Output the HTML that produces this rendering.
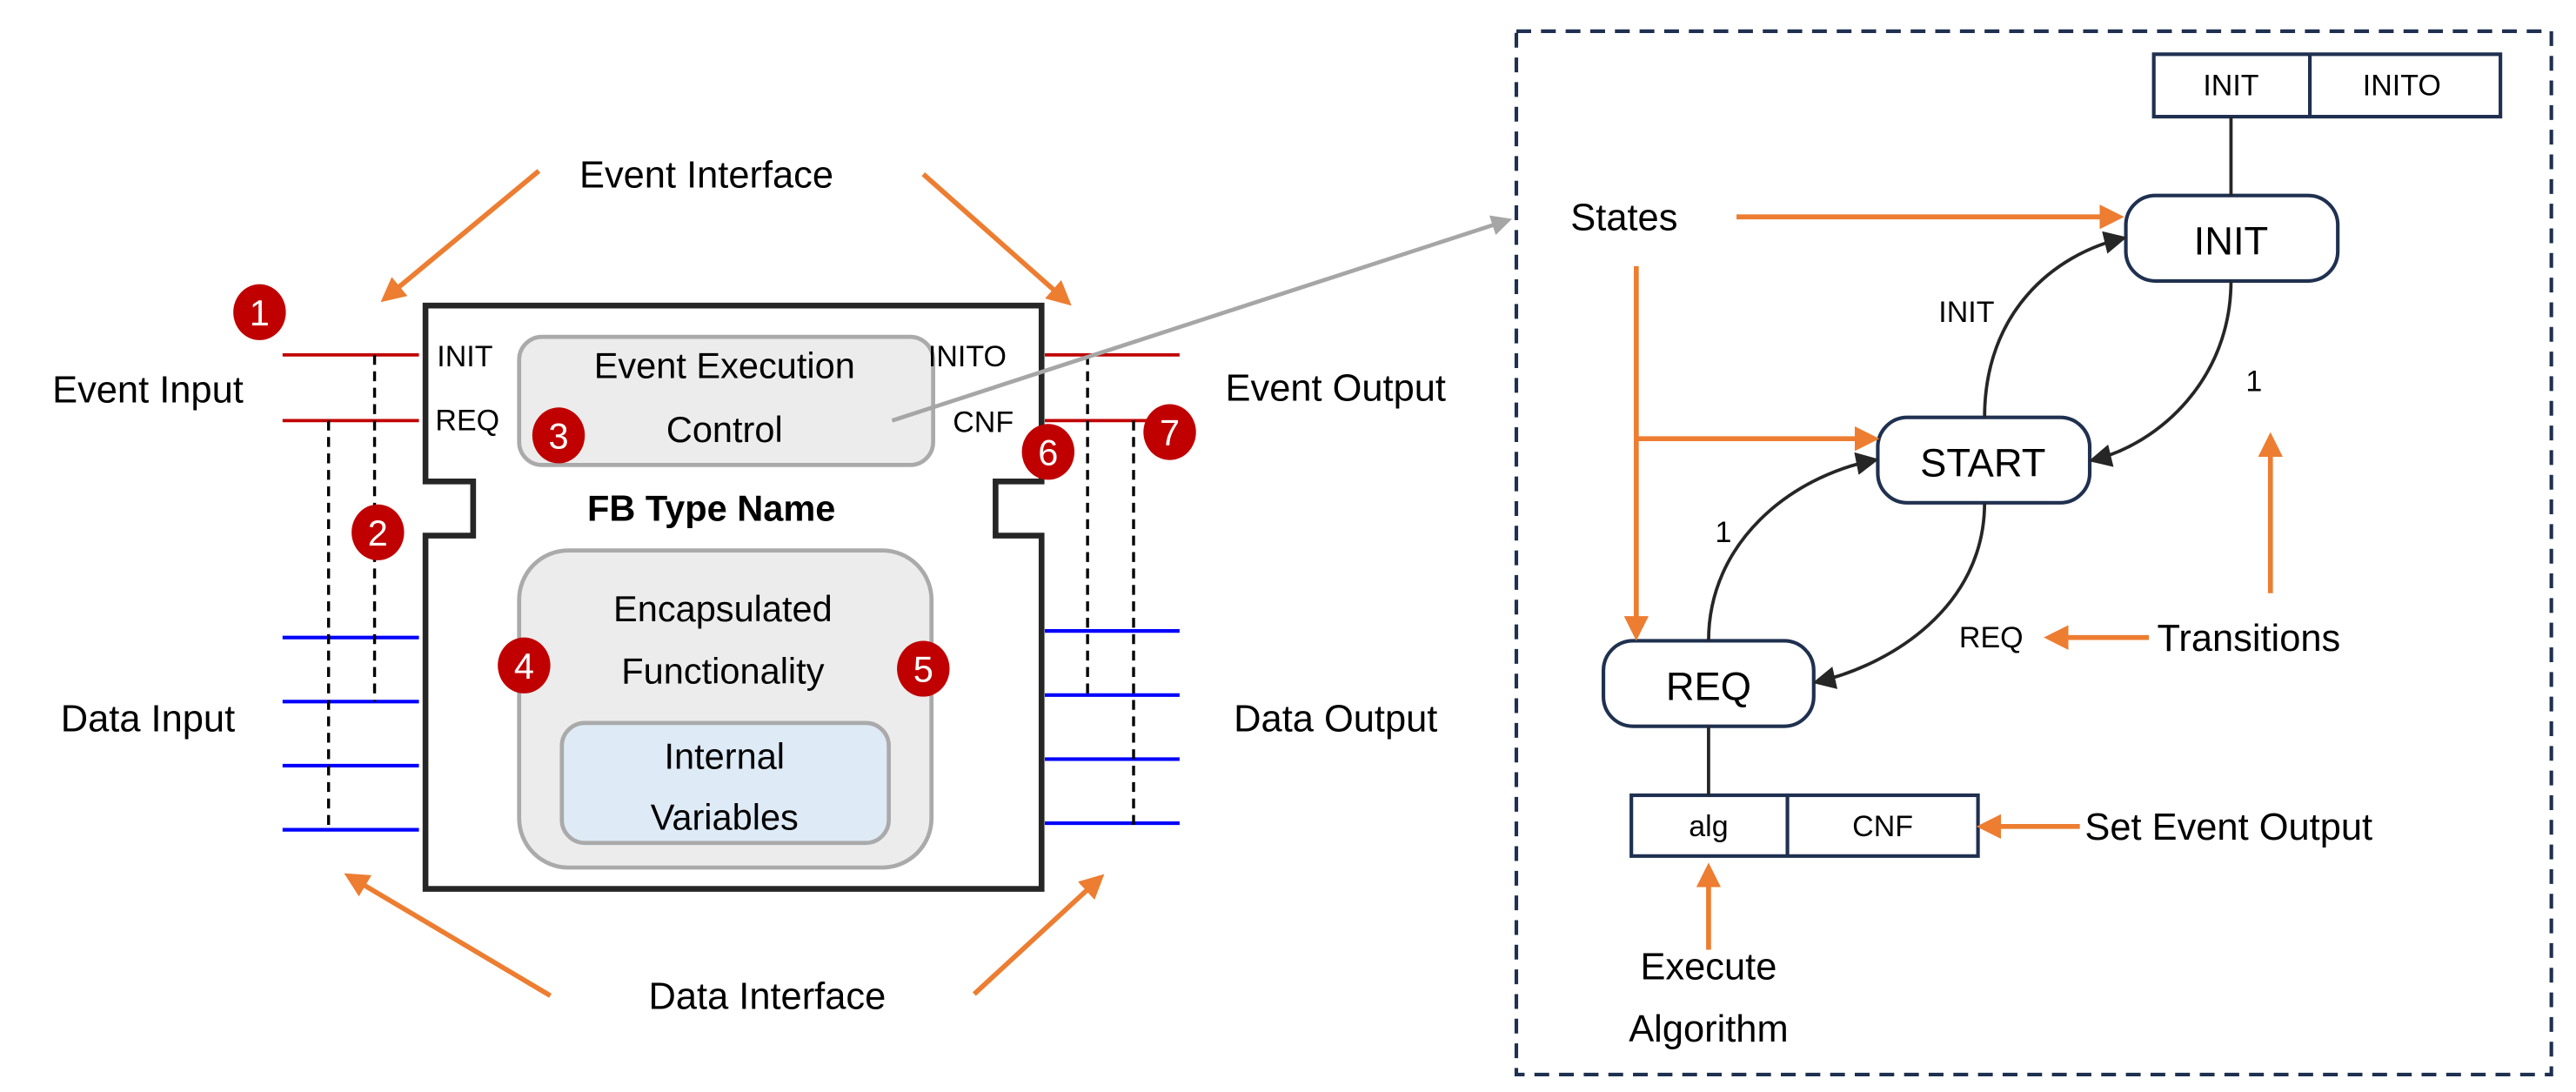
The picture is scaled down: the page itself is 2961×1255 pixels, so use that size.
<!DOCTYPE html>
<html><head><meta charset="utf-8"><style>
html,body{margin:0;padding:0;background:#fff;}
svg{display:block;}
text{font-family:"Liberation Sans",sans-serif;}
</style></head><body>
<svg width="2961" height="1255" viewBox="0 0 1568 664.6" preserveAspectRatio="none" xmlns="http://www.w3.org/2000/svg">
<defs>
<marker id="ao" viewBox="0 0 10 10" refX="8" refY="5" markerWidth="5" markerHeight="5" orient="auto" markerUnits="strokeWidth"><path d="M0,0 L10,5 L0,10 z" fill="#ed7d31"/></marker>
<marker id="ag" viewBox="0 0 10 10" refX="8" refY="5" markerWidth="5" markerHeight="5" orient="auto" markerUnits="strokeWidth"><path d="M0,0 L10,5 L0,10 z" fill="#a6a6a6"/></marker>
<marker id="ab" viewBox="0 0 10 10" refX="8" refY="5" markerWidth="7" markerHeight="7" orient="auto" markerUnits="strokeWidth"><path d="M0,0 L10,5 L0,10 z" fill="#262626"/></marker>
</defs>

<path d="M259,186 H634 V293 H606 V326 H634 V541 H259 V326 H288 V293 H259 Z" fill="#fff" stroke="#262626" stroke-width="3.5"/>
<rect x="316" y="205" width="252" height="78" rx="14" fill="#ececec" stroke="#aaa" stroke-width="2.5"/>
<rect x="316" y="335" width="251" height="193" rx="30" fill="#ececec" stroke="#aaa" stroke-width="2.5"/>
<rect x="342" y="440" width="199" height="73" rx="14" fill="#deeaf6" stroke="#aaa" stroke-width="2.5"/>

<g font-size="18" fill="#000">
<text x="266" y="223">INIT</text>
<text x="265" y="262">REQ</text>
<text x="565" y="223">INITO</text>
<text x="580" y="263">CNF</text>
</g>
<g font-size="22" fill="#000" text-anchor="middle">
<text x="441" y="230">Event Execution</text>
<text x="441" y="269">Control</text>
<text x="440" y="378">Encapsulated</text>
<text x="440" y="416">Functionality</text>
<text x="441" y="468">Internal</text>
<text x="441" y="505">Variables</text>
</g>
<text x="433" y="317" font-size="22" font-weight="bold" text-anchor="middle">FB Type Name</text>

<g stroke="#c00000" stroke-width="2">
<line x1="172" y1="216" x2="255" y2="216"/><line x1="172" y1="256" x2="255" y2="256"/>
<line x1="636" y1="216" x2="718" y2="216"/><line x1="636" y1="256" x2="718" y2="256"/>
</g>
<g stroke="#0000ff" stroke-width="2.2">
<line x1="172" y1="388" x2="255" y2="388"/><line x1="172" y1="427" x2="255" y2="427"/>
<line x1="172" y1="466" x2="255" y2="466"/><line x1="172" y1="505" x2="255" y2="505"/>
<line x1="636" y1="384" x2="718" y2="384"/><line x1="636" y1="423" x2="718" y2="423"/>
<line x1="636" y1="462" x2="718" y2="462"/><line x1="636" y1="501" x2="718" y2="501"/>
</g>
<g stroke="#000" stroke-width="1.8" stroke-dasharray="6,4">
<line x1="228" y1="216" x2="228" y2="427"/><line x1="200" y1="256" x2="200" y2="505"/>
<line x1="662" y1="216" x2="662" y2="423"/><line x1="690" y1="256" x2="690" y2="503"/>
</g>

<g fill="#c00000">
<ellipse cx="158" cy="190" rx="16" ry="17"/><ellipse cx="230" cy="324" rx="16" ry="17"/>
<ellipse cx="340" cy="265" rx="16" ry="17"/><ellipse cx="319" cy="405" rx="16" ry="17"/>
<ellipse cx="562" cy="407" rx="16" ry="17"/><ellipse cx="638" cy="275" rx="16" ry="17"/>
<ellipse cx="712" cy="263" rx="16" ry="17"/>
</g>
<g fill="#fff" font-size="22" text-anchor="middle">
<text x="158" y="198">1</text><text x="230" y="332">2</text><text x="340" y="273">3</text>
<text x="319" y="413">4</text><text x="562" y="415">5</text><text x="638" y="283">6</text><text x="712" y="271">7</text>
</g>

<g font-size="23" fill="#000">
<text x="430" y="114" text-anchor="middle">Event Interface</text>
<text x="90" y="245" text-anchor="middle">Event Input</text>
<text x="90" y="445" text-anchor="middle">Data Input</text>
<text x="813" y="244" text-anchor="middle">Event Output</text>
<text x="813" y="445" text-anchor="middle">Data Output</text>
<text x="467" y="614" text-anchor="middle">Data Interface</text>
</g>
<g stroke="#ed7d31" stroke-width="3" marker-end="url(#ao)">
<line x1="328" y1="104" x2="234" y2="182"/>
<line x1="562" y1="106" x2="650" y2="184"/>
<line x1="335" y1="606" x2="212" y2="533"/>
<line x1="593" y1="605" x2="670" y2="534"/>
</g>
<line x1="543" y1="256" x2="918" y2="134" stroke="#a6a6a6" stroke-width="2.5" marker-end="url(#ag)"/>

<rect x="923" y="19" width="630" height="635" fill="none" stroke="#1f3050" stroke-width="2.2" stroke-dasharray="9,6"/>
<g fill="#fff" stroke="#1f3050" stroke-width="2.2">
<rect x="1311" y="33" width="211" height="38"/><line x1="1406" y1="33" x2="1406" y2="71"/>
<rect x="993" y="484" width="211" height="37"/><line x1="1088" y1="484" x2="1088" y2="521"/>
<rect x="1294" y="119" width="129" height="52" rx="18"/>
<rect x="1143" y="254" width="129" height="52" rx="18"/>
<rect x="976" y="390" width="128" height="52" rx="18"/>
</g>
<g stroke="#262626" stroke-width="2">
<line x1="1358" y1="71" x2="1358" y2="119"/><line x1="1040" y1="442" x2="1040" y2="484"/>
</g>
<g fill="none" stroke="#262626" stroke-width="2" marker-end="url(#ab)">
<path d="M1208,254 C1208,190 1250,155 1292,145"/>
<path d="M1358,171 C1358,230 1315,270 1274,280"/>
<path d="M1040,390 C1040,330 1090,290 1141,280"/>
<path d="M1208,306 C1208,370 1150,405 1106,415"/>
</g>
<g font-size="18" fill="#000" text-anchor="middle">
<text x="1358" y="58">INIT</text><text x="1462" y="58">INITO</text>
<text x="1040" y="509">alg</text><text x="1146" y="509">CNF</text>
<text x="1197" y="196">INIT</text><text x="1372" y="238">1</text>
<text x="1049" y="330">1</text><text x="1212" y="394">REQ</text>
</g>
<g font-size="24" fill="#000" text-anchor="middle">
<text x="1358" y="155">INIT</text><text x="1207" y="290">START</text><text x="1040" y="426">REQ</text>
</g>
<g font-size="23" fill="#000">
<text x="956" y="140">States</text>
<text x="1313" y="396">Transitions</text>
<text x="1269" y="511">Set Event Output</text>
<text x="1040" y="596" text-anchor="middle">Execute</text>
<text x="1040" y="634" text-anchor="middle">Algorithm</text>
</g>
<g stroke="#ed7d31" stroke-width="3" fill="none">
<line x1="1057" y1="132" x2="1290" y2="132" marker-end="url(#ao)"/>
<line x1="996" y1="162" x2="996" y2="387" marker-end="url(#ao)"/>
<line x1="996" y1="267" x2="1141" y2="267" marker-end="url(#ao)"/>
<line x1="1308" y1="388" x2="1247" y2="388" marker-end="url(#ao)"/>
<line x1="1382" y1="361" x2="1382" y2="266" marker-end="url(#ao)"/>
<line x1="1266" y1="503" x2="1206" y2="503" marker-end="url(#ao)"/>
<line x1="1040" y1="578" x2="1040" y2="528" marker-end="url(#ao)"/>
</g>
</svg>
</body></html>
